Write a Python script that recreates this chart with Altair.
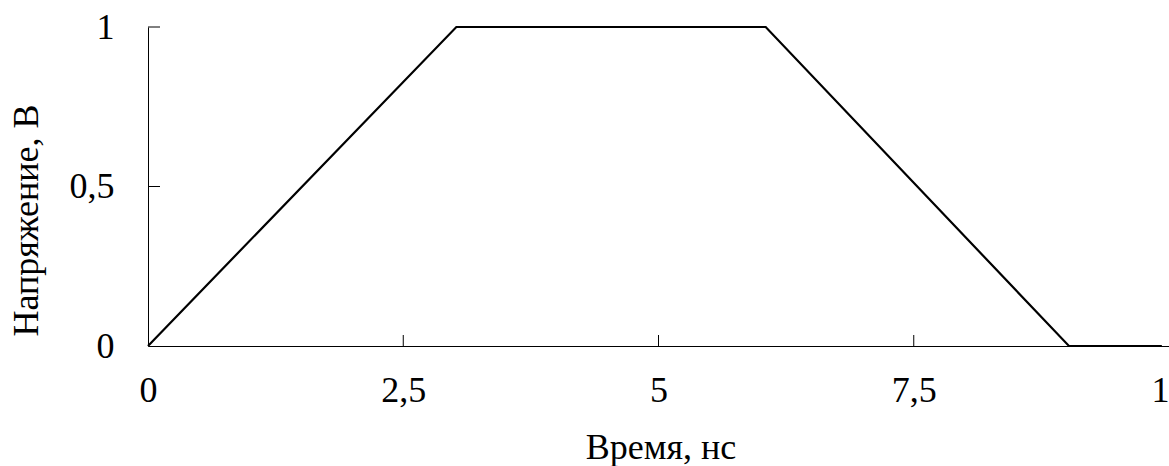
import altair as alt
import pandas as pd

# Trapezoidal voltage pulse
time_ns = [0.0, 3.02, 6.05, 9.02, 9.93]
voltage_v = [0.0, 1.0, 1.0, 0.0, 0.0]

x_ticks = [0, 2.5, 5, 7.5, 10]
y_ticks = [0, 0.5, 1]
x_inner_ticks = [2.5, 5, 7.5]
y_inner_ticks = [0.5, 1]

FONT = "Liberation Serif"
W, H = 1021, 319

pulse = pd.DataFrame({"t": time_ns, "v": voltage_v})
xt = pd.DataFrame({"t": x_inner_ticks})
yt = pd.DataFrame({"v": y_inner_ticks})

x_scale = alt.Scale(domain=[0, 10], nice=False, zero=False)
y_scale = alt.Scale(domain=[0, 1], nice=False)

x_axis = alt.Axis(
    title="Время, нс", values=x_ticks, grid=False, ticks=False,
    labelExpr="replace(format(datum.value, '~g'), '.', ',')",
    labelFont=FONT, labelFontSize=36, labelColor="black",
    labelBaseline="alphabetic", labelPadding=55, labelFlush=False,
    labelOverlap=False,
    titleFont=FONT, titleFontSize=36, titleFontWeight="normal", titleColor="black",
    titleBaseline="alphabetic", titleY=112, titleX=W / 2 + 2,
    domainColor="black", domainWidth=1,
)
y_axis = alt.Axis(
    title="Напряжение, В", values=y_ticks, grid=False, ticks=False,
    labelExpr="replace(format(datum.value, '~g'), '.', ',')",
    labelFont=FONT, labelFontSize=36, labelColor="black",
    labelPadding=34, labelFlush=False, labelOverlap=False,
    titleFont=FONT, titleFontSize=36, titleFontWeight="normal", titleColor="black",
    titleAngle=-90, titleAlign="center", titleBaseline="alphabetic",
    titleX=-111, titleY=193,
    domainColor="black", domainWidth=1,
)

line = alt.Chart(pulse).mark_line(color="black", strokeWidth=2.2, clip=False).encode(
    x=alt.X("t:Q", scale=x_scale, axis=x_axis),
    y=alt.Y("v:Q", scale=y_scale, axis=y_axis),
)

# inward tick marks
x_tick_marks = alt.Chart(xt).mark_rule(color="black", strokeWidth=1).encode(
    x=alt.X("t:Q", scale=x_scale),
    y=alt.datum(0, scale=y_scale),
    y2=alt.value(H - 11),
)
y_tick_marks = alt.Chart(yt).mark_rule(color="black", strokeWidth=1).encode(
    y=alt.Y("v:Q", scale=y_scale),
    x=alt.datum(0, scale=x_scale),
    x2=alt.value(12),
)

chart = (
    alt.layer(x_tick_marks, y_tick_marks, line)
    .properties(
        width=W, height=H,
        autosize=alt.AutoSizeParams(type="none"),
        padding={"left": 148, "top": 27, "right": 0, "bottom": 120},
        background="white",
    )
    .configure_view(stroke=None)
)

chart.save("out.html", embed_options={"renderer": "svg", "actions": False})
